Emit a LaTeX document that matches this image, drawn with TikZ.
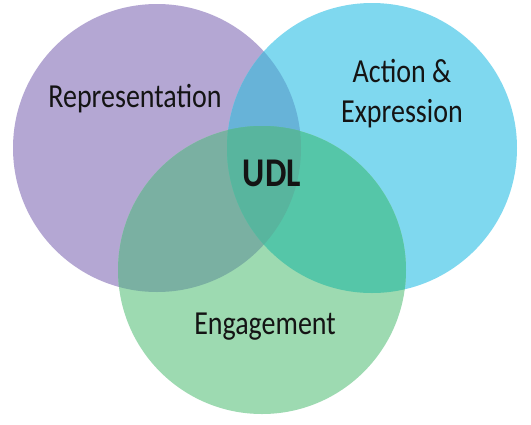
\documentclass[tikz,border=0pt]{standalone}
\usepackage{fontspec}
\setmainfont{Carlito}
\definecolor{cP}{HTML}{B4A7D3}
\definecolor{cB}{HTML}{7FD8EF}
\definecolor{cG}{HTML}{9DDAB1}
\definecolor{cPB}{HTML}{67B3D8}
\definecolor{cPG}{HTML}{7AB0A2}
\definecolor{cBG}{HTML}{55C6A8}
\definecolor{cPBG}{HTML}{58B59E}
\definecolor{ink}{HTML}{141414}
\newcommand{\tallt}[1]{\scalebox{1}[1.2]{#1}}
\begin{document}
\begin{tikzpicture}[x=1pt,y=-1pt,
  lbl/.style={inner sep=0pt, text=ink, font={\fontsize{28}{40}\selectfont}},
  setlbl/.style={lbl, font={\fontsize{34}{40}\selectfont\bfseries}}]
\useasboundingbox (0,0) rectangle (531,424);
\fill[white] (0,0) rectangle (531,424);
\def\circP{(157,148) circle[radius=144]}
\def\circB{(372,148) circle[radius=145]}
\def\circG{(262,270) circle[radius=144]}
% base circles
\fill[cP] \circP;
\fill[cB] \circB;
\fill[cG] \circG;
% pairwise overlaps
\begin{scope}\clip \circP; \fill[cPB] \circB; \end{scope}
\begin{scope}\clip \circP; \fill[cPG] \circG; \end{scope}
\begin{scope}\clip \circB; \fill[cBG] \circG; \end{scope}
% triple overlap
\begin{scope}\clip \circP; \clip \circB; \fill[cPBG] \circG; \end{scope}
% labels
\node[lbl, anchor=base] (rep) at (135,107) {\tallt{Representation}};
\node[lbl, anchor=base, align=center] (act) at (402,122) {\tallt{Action \&}\\\tallt{Expression}};
\node[lbl, anchor=base] (eng) at (265,334) {\tallt{Engagement}};
\node[setlbl, anchor=base] (udl) at (272,186) {\tallt{UDL}};
\end{tikzpicture}
\end{document}
